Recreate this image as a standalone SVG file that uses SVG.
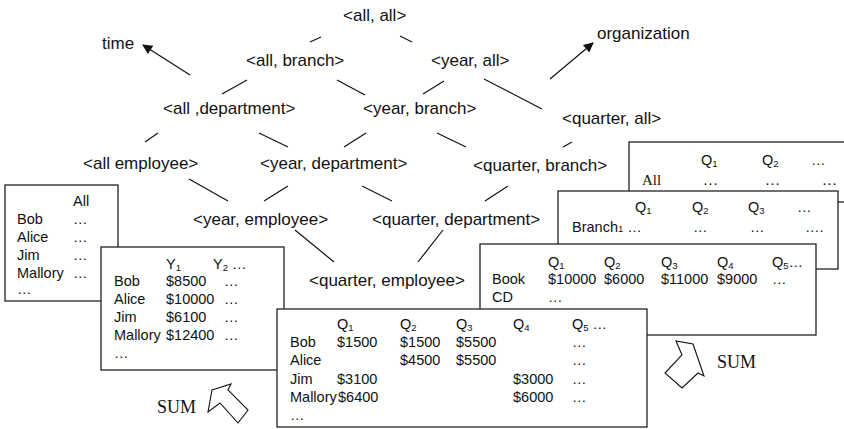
<svg xmlns="http://www.w3.org/2000/svg" width="844" height="429" viewBox="0 0 844 429">
  <style>
    .lbl { font-family: "Liberation Sans", Arial, sans-serif; font-size: 17px; fill: #111; }
    .cell { font-family: "Liberation Sans", Arial, sans-serif; font-size: 14.5px; fill: #111; }
    .serif { font-family: "Liberation Serif", "Times New Roman", serif; font-size: 15px; fill: #111; }
    .sum { font-family: "Liberation Serif", "Times New Roman", serif; font-size: 18px; fill: #111; }
    .sub { font-size: 9.5px; }
    .edge { stroke: #111; stroke-width: 1.2; fill: none; }
    .tbl { fill: #fff; stroke: #222; stroke-width: 1.3; }
    .blk { fill: #fff; stroke: #111; stroke-width: 1.1; stroke-linejoin: miter; }
  </style>
  <defs>
    <marker id="head" viewBox="0 0 10 10" refX="9" refY="5" markerWidth="14" markerHeight="10" markerUnits="userSpaceOnUse" orient="auto">
      <path d="M0,0 L10,5 L0,10 z" fill="#111"/>
    </marker>
  </defs>
  <rect width="844" height="429" fill="#fff"/>

  <!-- lattice connectors and axis arrows -->
  <g id="connectors">
    <line class="edge" x1="310" y1="42" x2="321" y2="37"/>
    <line class="edge" x1="400" y1="36" x2="412" y2="42"/>
    <line class="edge" x1="222" y1="94" x2="247" y2="80"/>
    <line class="edge" x1="337" y1="80" x2="365" y2="95"/>
    <line class="edge" x1="423" y1="94" x2="444" y2="81"/>
    <line class="edge" x1="484" y1="79" x2="542" y2="109"/>
    <line class="edge" x1="145" y1="142" x2="158" y2="133"/>
    <line class="edge" x1="259" y1="133" x2="288" y2="147"/>
    <line class="edge" x1="344" y1="147" x2="366" y2="133"/>
    <line class="edge" x1="437" y1="133" x2="466" y2="147"/>
    <line class="edge" x1="563" y1="147" x2="572" y2="142"/>
    <line class="edge" x1="189" y1="179" x2="228" y2="201"/>
    <line class="edge" x1="264" y1="201" x2="288" y2="186"/>
    <line class="edge" x1="362" y1="186" x2="392" y2="201"/>
    <line class="edge" x1="485" y1="201" x2="508" y2="186"/>
    <line class="edge" x1="295" y1="230" x2="334" y2="262"/>
    <line class="edge" x1="443" y1="230" x2="418" y2="262"/>
    <line class="edge" x1="190" y1="75" x2="143" y2="45" marker-end="url(#head)"/>
    <line class="edge" x1="550" y1="79" x2="593" y2="43" marker-end="url(#head)"/>
  </g>

  <!-- lattice nodes -->
  <g id="axis-time"><text class="lbl" x="102" y="49">time</text></g>
  <g id="axis-organization"><text class="lbl" x="597" y="39">organization</text></g>
  <g id="n-all-all"><text class="lbl" x="343" y="21">&lt;all, all&gt;</text></g>
  <g id="n-all-branch"><text class="lbl" x="246" y="66">&lt;all, branch&gt;</text></g>
  <g id="n-year-all"><text class="lbl" x="431" y="66">&lt;year, all&gt;</text></g>
  <g id="n-all-department"><text class="lbl" x="163" y="114">&lt;all ,department&gt;</text></g>
  <g id="n-year-branch"><text class="lbl" x="363" y="114">&lt;year, branch&gt;</text></g>
  <g id="n-quarter-all"><text class="lbl" x="562" y="124">&lt;quarter, all&gt;</text></g>
  <g id="n-all-employee"><text class="lbl" x="83" y="169">&lt;all employee&gt;</text></g>
  <g id="n-year-department"><text class="lbl" x="260" y="169">&lt;year, department&gt;</text></g>
  <g id="n-quarter-branch"><text class="lbl" x="473" y="171">&lt;quarter, branch&gt;</text></g>
  <g id="n-year-employee"><text class="lbl" x="193" y="225">&lt;year, employee&gt;</text></g>
  <g id="n-quarter-department"><text class="lbl" x="372" y="225">&lt;quarter, department&gt;</text></g>
  <g id="n-quarter-employee"><text class="lbl" x="309" y="286">&lt;quarter, employee&gt;</text></g>

  <!-- table: employees summed over all time -->
  <g id="t-all-employee">
    <rect class="tbl" x="5" y="185" width="113" height="116"/>
    <text class="cell" x="73" y="206">All</text>
    <text class="cell" x="17" y="224">Bob</text><text class="cell" x="73" y="224">…</text>
    <text class="cell" x="17" y="242">Alice</text><text class="cell" x="73" y="242">…</text>
    <text class="cell" x="17" y="260">Jim</text><text class="cell" x="73" y="260">…</text>
    <text class="cell" x="17" y="278">Mallory</text><text class="cell" x="73" y="278">…</text>
    <text class="cell" x="17" y="294">…</text>
  </g>

  <!-- table: employees by year -->
  <g id="t-year-employee">
    <rect class="tbl" x="101" y="247" width="183" height="123"/>
    <text class="cell" x="166" y="269">Y<tspan class="sub" dy="2">1</tspan></text>
    <text class="cell" x="213" y="269">Y<tspan class="sub" dy="2">2</tspan><tspan dy="-2"> …</tspan></text>
    <text class="cell" x="114" y="286">Bob</text><text class="cell" x="166" y="286">$8500</text><text class="cell" x="224" y="286">…</text>
    <text class="cell" x="114" y="304">Alice</text><text class="cell" x="166" y="304">$10000</text><text class="cell" x="224" y="304">…</text>
    <text class="cell" x="114" y="322">Jim</text><text class="cell" x="166" y="322">$6100</text><text class="cell" x="224" y="322">…</text>
    <text class="cell" x="114" y="340">Mallory</text><text class="cell" x="166" y="340">$12400</text><text class="cell" x="224" y="340">…</text>
    <text class="cell" x="114" y="358">…</text>
  </g>

  <!-- table: all organization by quarter -->
  <g id="t-quarter-all">
    <rect class="tbl" x="629" y="142" width="230" height="60"/>
    <text class="cell" x="701" y="165">Q<tspan class="sub" dy="2">1</tspan></text>
    <text class="cell" x="762" y="165">Q<tspan class="sub" dy="2">2</tspan></text>
    <text class="cell" x="811" y="165">…</text>
    <text class="serif" x="642" y="185">All</text>
    <text class="serif" x="703" y="185">…</text>
    <text class="serif" x="765" y="185">…</text>
    <text class="serif" x="822" y="185">…</text>
  </g>

  <!-- table: branches by quarter -->
  <g id="t-quarter-branch">
    <rect class="tbl" x="558" y="191" width="280" height="78"/>
    <text class="cell" x="635" y="212">Q<tspan class="sub" dy="2">1</tspan></text>
    <text class="cell" x="692" y="212">Q<tspan class="sub" dy="2">2</tspan></text>
    <text class="cell" x="748" y="212">Q<tspan class="sub" dy="2">3</tspan></text>
    <text class="cell" x="797" y="212">…</text>
    <text class="cell" x="572" y="232">Branch<tspan class="sub">1</tspan> …</text>
    <text class="cell" x="693" y="232">…</text>
    <text class="cell" x="750" y="232">…</text>
    <text class="cell" x="805" y="232">….</text>
  </g>

  <!-- table: departments by quarter -->
  <g id="t-quarter-department">
    <rect class="tbl" x="480" y="244" width="336" height="91"/>
    <text class="cell" x="548" y="267">Q<tspan class="sub" dy="2">1</tspan></text>
    <text class="cell" x="604" y="267">Q<tspan class="sub" dy="2">2</tspan></text>
    <text class="cell" x="661" y="267">Q<tspan class="sub" dy="2">3</tspan></text>
    <text class="cell" x="717" y="267">Q<tspan class="sub" dy="2">4</tspan></text>
    <text class="cell" x="772" y="267">Q<tspan class="sub" dy="2">5</tspan><tspan dy="-2">…</tspan></text>
    <text class="cell" x="492" y="284">Book</text>
    <text class="cell" x="548" y="284">$10000</text>
    <text class="cell" x="604" y="284">$6000</text>
    <text class="cell" x="661" y="284">$11000</text>
    <text class="cell" x="717" y="284">$9000</text>
    <text class="cell" x="772" y="284">…</text>
    <text class="cell" x="492" y="302">CD</text>
    <text class="cell" x="548" y="302">…</text>
  </g>

  <!-- table: employees by quarter -->
  <g id="t-quarter-employee">
    <rect class="tbl" x="277" y="309" width="370" height="118"/>
    <text class="cell" x="337" y="329">Q<tspan class="sub" dy="2">1</tspan></text>
    <text class="cell" x="400" y="329">Q<tspan class="sub" dy="2">2</tspan></text>
    <text class="cell" x="456" y="329">Q<tspan class="sub" dy="2">3</tspan></text>
    <text class="cell" x="513" y="329">Q<tspan class="sub" dy="2">4</tspan></text>
    <text class="cell" x="572" y="329">Q<tspan class="sub" dy="2">5</tspan><tspan dy="-2"> …</tspan></text>
    <text class="cell" x="290" y="347">Bob</text>
    <text class="cell" x="337" y="347">$1500</text>
    <text class="cell" x="400" y="347">$1500</text>
    <text class="cell" x="456" y="347">$5500</text>
    <text class="cell" x="572" y="347">…</text>
    <text class="cell" x="290" y="365">Alice</text>
    <text class="cell" x="400" y="365">$4500</text>
    <text class="cell" x="456" y="365">$5500</text>
    <text class="cell" x="572" y="365">…</text>
    <text class="cell" x="290" y="384">Jim</text>
    <text class="cell" x="337" y="384">$3100</text>
    <text class="cell" x="513" y="384">$3000</text>
    <text class="cell" x="572" y="384">…</text>
    <text class="cell" x="290" y="402">Mallory</text>
    <text class="cell" x="338" y="402">$6400</text>
    <text class="cell" x="513" y="402">$6000</text>
    <text class="cell" x="572" y="402">…</text>
    <text class="cell" x="290" y="420">…</text>
  </g>

  <!-- roll-up (SUM) block arrows -->
  <g id="sum-left">
    <text class="sum" x="157" y="413">SUM</text>
    <polygon class="blk" points="212,390 231,384 228,390 248,410 238,423 220,403 208,412"/>
  </g>
  <g id="sum-right">
    <polygon class="blk" points="693,344 704,376 698,373 682,388 665,373 682,355 676,341"/>
    <text class="sum" x="717" y="368">SUM</text>
  </g>
</svg>
